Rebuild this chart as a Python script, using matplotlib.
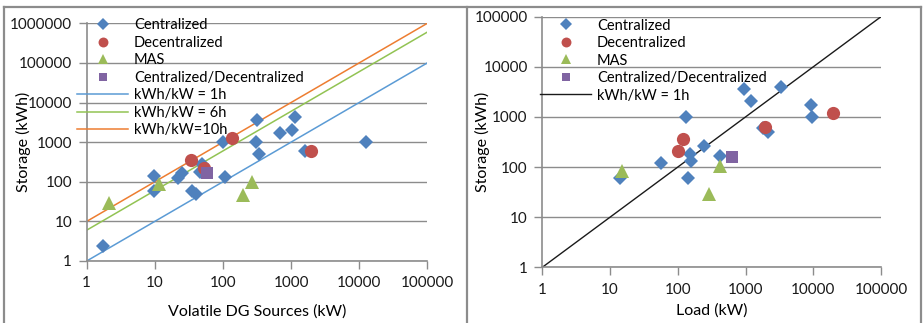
import matplotlib
matplotlib.use("Agg")
import matplotlib.pyplot as plt
from matplotlib.lines import Line2D
import numpy as np

plt.rcParams['font.family'] = ['Lato', 'DejaVu Sans']

# ---------------- Left panel data: Storage vs Volatile DG Sources ----------------
left_cent_x = [1.76, 9.7, 9.7, 21.7, 24.8, 34.8, 39.8, 49.9, 46, 99, 107, 313, 303, 342, 689, 1020, 1155, 1600, 12600]
left_cent_y = [2.4, 143, 58.6, 122, 170, 58.6, 48, 276, 180, 1000, 135, 3630, 1000, 504, 1740, 2040, 4250, 600, 1000]
left_dec_x = [34, 52.7, 137, 1940]
left_dec_y = [355, 219, 1300, 600]
left_mas_x = [2.15, 11.7, 195, 265]
left_mas_y = [28.6, 86, 46, 100]
left_cd_x = [57.7]
left_cd_y = [164]
ratio_hours = [1, 6, 10]
ratio_labels = ["kWh/kW = 1h", "kWh/kW = 6h", "kWh/kW=10h"]
line_x = [1, 100000]

# ---------------- Right panel data: Storage vs Load ----------------
right_cent_x = [14, 56.5, 131, 151, 155, 142, 241, 420, 960, 1200, 3340, 2120, 1800, 9260, 9690]
right_cent_y = [59.6, 122, 1000, 182, 134, 59.6, 267, 166, 3550, 2080, 4010, 493, 600, 1730, 1010]
right_dec_x = [99.5, 118, 1940, 19300]
right_dec_y = [209, 357, 620, 1217]
right_mas_x = [15.2, 289, 420]
right_mas_y = [85, 28.6, 107]
right_cd_x = [624]
right_cd_y = [156]

x_ticks = [1, 10, 100, 1000, 10000, 100000]
x_tick_labels = ["1", "10", "100", "1000", "10000", "100000"]
left_y_ticks = [1, 10, 100, 1000, 10000, 100000, 1000000]
left_y_tick_labels = ["1", "10", "100", "1000", "10000", "100000", "1000000"]
right_y_ticks = [1, 10, 100, 1000, 10000, 100000]
right_y_tick_labels = ["1", "10", "100", "1000", "10000", "100000"]

C_BLUE = "#4F81BD"
C_RED = "#C0504D"
C_GREEN = "#9BBB59"
C_PURPLE = "#8064A2"
LINE_COLORS = ["#5B9BD5", "#92C353", "#ED7D31"]
GRID = "#8C8C8C"

W, H = 923, 323
fig = plt.figure(figsize=(W / 100, H / 100), dpi=100)

def fx(px):
    return px / W

def fy(py):
    return 1 - py / H

axL = fig.add_axes([fx(86.7), fy(261), fx(427.3 - 86.7), (261 - 23.3) / H])
axR = fig.add_axes([fx(542.3), fy(267.3), fx(881 - 542.3), (267.3 - 16.7) / H])


def style(ax, yt, ytl):
    ax.set_xscale('log')
    ax.set_yscale('log')
    ax.set_xlim(1, 100000)
    ax.set_ylim(yt[0], yt[-1])
    ax.set_xticks(x_ticks)
    ax.set_xticklabels(x_tick_labels)
    ax.set_yticks(yt)
    ax.set_yticklabels(ytl)
    ax.minorticks_off()
    ax.tick_params(axis='both', which='major', length=6, width=1, color=GRID,
                   labelsize=11, labelcolor='#1a1a1a')
    ax.tick_params(axis='x', pad=5)
    ax.tick_params(axis='y', pad=4.5)
    for s in ['top', 'right']:
        ax.spines[s].set_visible(False)
    for s in ['left', 'bottom']:
        ax.spines[s].set_color(GRID)
        ax.spines[s].set_linewidth(1.2)
    ax.grid(True, axis='y', color=GRID, linewidth=1.0)
    ax.set_axisbelow(True)
    ax.patch.set_alpha(0)


# Left
style(axL, left_y_ticks, left_y_tick_labels)
hC = axL.plot(left_cent_x, left_cent_y, 'D', color=C_BLUE, ms=7.5, mew=0, zorder=3)[0]
hD = axL.plot(left_dec_x, left_dec_y, 'o', color=C_RED, ms=9.5, mew=0, zorder=3)[0]
hM = axL.plot(left_mas_x, left_mas_y, '^', color=C_GREEN, ms=10, mew=0, zorder=3)[0]
hCD = axL.plot(left_cd_x, left_cd_y, 's', color=C_PURPLE, ms=8.5, mew=0, zorder=3)[0]
line_handles = []
for h, c in zip(ratio_hours, LINE_COLORS):
    yv = [v * h for v in line_x]
    line_handles.append(axL.plot(line_x, yv, '-', color=c, lw=1.1, zorder=2)[0])
axL.set_ylabel("Storage (kWh)", fontsize=11.5)
axL.set_xlabel("Volatile DG Sources (kW)", fontsize=11.5, labelpad=10)
axL.yaxis.set_label_coords(-0.165, 0.5)

legL = axL.legend([hC, hD, hM, hCD] + line_handles,
                  ["Centralized", "Decentralized", "MAS", "Centralized/Decentralized"] + ratio_labels,
                  loc='upper left', bbox_to_anchor=(-0.045, 1.045), frameon=False,
                  fontsize=10.5, markerscale=0.75, handlelength=3.5, handletextpad=0.4,
                  labelspacing=0.24, borderaxespad=0)

# Right
style(axR, right_y_ticks, right_y_tick_labels)
rC = axR.plot(right_cent_x, right_cent_y, 'D', color=C_BLUE, ms=7.5, mew=0, zorder=3)[0]
rD = axR.plot(right_dec_x, right_dec_y, 'o', color=C_RED, ms=9.5, mew=0, zorder=3)[0]
rM = axR.plot(right_mas_x, right_mas_y, '^', color=C_GREEN, ms=10, mew=0, zorder=3)[0]
rCD = axR.plot(right_cd_x, right_cd_y, 's', color=C_PURPLE, ms=8.5, mew=0, zorder=3)[0]
rL = axR.plot(line_x, [v * ratio_hours[0] for v in line_x], '-', color='#1a1a1a', lw=1.0, zorder=2)[0]
axR.set_ylabel("Storage (kWh)", fontsize=11.5)
axR.set_xlabel("Load (kW)", fontsize=11.5, labelpad=5)
axR.yaxis.set_label_coords(-0.155, 0.5)

legR = axR.legend([rC, rD, rM, rCD, rL],
                  ["Centralized", "Decentralized", "MAS", "Centralized/Decentralized", ratio_labels[0]],
                  loc='upper left', bbox_to_anchor=(-0.024, 1.016), frameon=False,
                  fontsize=10.5, markerscale=0.75, handlelength=3.5, handletextpad=0.4,
                  labelspacing=0.24, borderaxespad=0)

# Panel frames
fc = "#8C8C8C"
fig.add_artist(Line2D([fx(4), fx(921)], [fy(6.5), fy(6.5)], transform=fig.transFigure, color=fc, lw=1.6))
fig.add_artist(Line2D([fx(4), fx(4)], [fy(6.5), 0], transform=fig.transFigure, color=fc, lw=1.6))
fig.add_artist(Line2D([fx(466.7), fx(466.7)], [fy(6.5), 0], transform=fig.transFigure, color=fc, lw=1.6))
fig.add_artist(Line2D([fx(921), fx(921)], [fy(6.5), 0], transform=fig.transFigure, color=fc, lw=1.6))

fig.savefig("out.png", dpi=100)
